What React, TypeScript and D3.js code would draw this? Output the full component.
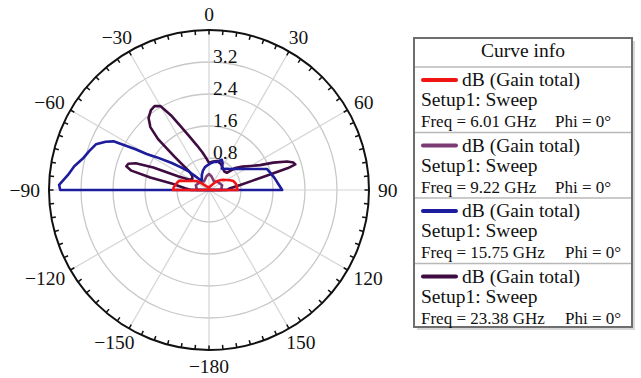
import React, { useEffect, useRef } from "react";
import * as d3 from "d3";

// polar layout
const W = 641;
const H = 378;
const cx = 209;
const cy = 190;
const R = 160;
const rMax = 4.0;

const radialTicks = [0.8, 1.6, 2.4, 3.2];
const angleTicks = [0, 30, 60, 90, 120, 150, 180, -150, -120, -90, -60, -30];
const angleText = ["0", "30", "60", "90", "120", "150", "\u2212180", "\u2212150", "\u2212120", "\u221290", "\u221260", "\u221230"];

// [theta (deg), gain], upper half only (lower half sits at the centre)
const gain601 = [
  [-90, 0.9], [-85, 0.88], [-80, 0.84], [-75, 0.8], [-72, 0.76], [-68, 0.6], [-64, 0.52],
  [-60, 0.45], [-55, 0.39], [-50, 0.3], [-45, 0.2], [-40, 0.14], [-30, 0.1], [-20, 0.08],
  [-10, 0.06], [0, 0.06], [10, 0.08], [20, 0.1], [30, 0.15], [40, 0.26], [45, 0.33],
  [50, 0.39], [55, 0.44], [60, 0.5], [65, 0.58], [70, 0.65], [75, 0.68], [80, 0.7],
  [85, 0.7], [90, 0.72],
];
const gain922 = [
  [-90, 0.3], [-70, 0.35], [-50, 0.3], [-30, 0.25], [-10, 0.35], [0, 0.4], [10, 0.35],
  [30, 0.25], [50, 0.3], [70, 0.35], [90, 0.3],
];
const gain1575 = [
  [-90, 3.72], [-88, 3.75], [-84, 3.55], [-80, 3.42], [-76, 3.25], [-72, 3.15], [-68, 3.05],
  [-65, 2.85], [-63, 2.68], [-61, 2.1], [-60, 1.8], [-58, 1.55], [-54, 1.15], [-51, 0.9],
  [-48, 0.72], [-45, 0.5], [-42, 0.36], [-38, 0.3], [-32, 0.34], [-25, 0.42], [-18, 0.5],
  [-10, 0.58], [-2, 0.63], [5, 0.68], [10, 0.71], [16, 0.73], [20, 0.78], [23, 0.82],
  [27, 0.75], [31, 0.62], [35, 0.64], [40, 0.69], [45, 0.74], [50, 0.82], [55, 0.92],
  [60, 1.05], [65, 1.24], [70, 1.54], [75, 1.6], [80, 1.67], [85, 1.74], [90, 1.83],
];
const gain2338 = [
  [-90, 0.45], [-86, 0.6], [-82, 0.8], [-80, 0.95], [-78, 1.5], [-76, 2.0], [-74, 2.15],
  [-72, 2.12], [-70, 1.95], [-68, 1.5], [-66, 0.85], [-62, 0.55], [-56, 0.5], [-50, 0.55],
  [-47, 0.65], [-46, 1.2], [-45, 1.8], [-43, 2.15], [-40, 2.35], [-36, 2.47], [-33, 2.5],
  [-30, 2.42], [-27, 2.1], [-24, 1.75], [-20, 1.42], [-15, 1.15], [-10, 0.96], [-5, 0.8],
  [0, 0.68], [8, 0.72], [16, 0.75], [24, 0.72], [32, 0.65], [40, 0.6], [46, 0.62],
  [50, 0.85], [55, 1.02], [60, 1.2], [64, 1.42], [67, 1.75], [70, 2.08], [72, 2.22],
  [73.5, 2.25], [74.5, 2.05], [76, 1.5], [78, 1.1], [81, 0.79], [85, 0.53], [90, 0.45],
];

const freqs = ["6.01", "9.22", "15.75", "23.38"];
const colors = ["#f01414", "#7a3a72", "#1c1c9c", "#3e0c40"];
const seriesData = [gain601, gain922, gain1575, gain2338];
const drawOrder = [3, 1, 2, 0];

const serif = "'Liberation Serif', 'Times New Roman', serif";

export default function App() {
  const svgRef = useRef<SVGSVGElement>(null);

  useEffect(() => {
    const svg = d3.select(svgRef.current);
    svg.selectAll("*").remove();

    const r = d3.scaleLinear().domain([0, rMax]).range([0, R]);
    const rad = (deg: number) => (deg * Math.PI) / 180;

    const g = svg.append("g").attr("transform", `translate(${cx}, ${cy})`);

    // grid rings
    g.selectAll(".ring")
      .data(radialTicks)
      .enter()
      .append("circle")
      .attr("r", (d) => r(d))
      .attr("fill", "none")
      .attr("stroke", "#c8c8c8")
      .attr("stroke-width", 1.3);

    // spokes
    g.selectAll(".spoke")
      .data(d3.range(0, 360, 30))
      .enter()
      .append("line")
      .attr("x2", (d) => R * Math.sin(rad(d)))
      .attr("y2", (d) => -R * Math.cos(rad(d)))
      .attr("stroke", "#d4d4d4")
      .attr("stroke-width", 1.2);

    // outer circle + ticks
    g.append("circle")
      .attr("r", R)
      .attr("fill", "none")
      .attr("stroke", "#111")
      .attr("stroke-width", 2);

    g.selectAll(".tick")
      .data(d3.range(0, 360, 5))
      .enter()
      .append("line")
      .attr("x1", (d) => R * Math.sin(rad(d)))
      .attr("y1", (d) => -R * Math.cos(rad(d)))
      .attr("x2", (d) => (R - 4.5) * Math.sin(rad(d)))
      .attr("y2", (d) => -(R - 4.5) * Math.cos(rad(d)))
      .attr("stroke", "#111")
      .attr("stroke-width", 1.5);

    // radial labels
    g.selectAll(".rlabel")
      .data(radialTicks)
      .enter()
      .append("text")
      .attr("x", 4)
      .attr("y", (d) => -r(d) + 1)
      .attr("font-family", serif)
      .attr("font-size", 19.5)
      .attr("fill", "#111")
      .text((d) => d.toFixed(1));

    // angle labels, pushed out so the nearest edge sits at a fixed radius
    const Ra = 169;
    g.selectAll(".alabel")
      .data(angleTicks)
      .enter()
      .append("text")
      .attr("font-family", serif)
      .attr("font-size", 19.5)
      .attr("fill", "#111")
      .attr("text-anchor", "middle")
      .attr("dominant-baseline", "central")
      .text((d, i) => angleText[i])
      .each(function (d) {
        const el = this as SVGTextElement;
        const w = el.getComputedTextLength();
        const t = rad(d);
        const x = Ra * Math.sin(t) + Math.sin(t) * (w / 2);
        const y = -Ra * Math.cos(t) - Math.cos(t) * 7;
        d3.select(el).attr("x", x).attr("y", y);
      });

    // curves
    const line = d3
      .lineRadial<number[]>()
      .angle((d) => rad(d[0]))
      .radius((d) => r(d[1]))
      .curve(d3.curveLinearClosed);

    drawOrder.forEach((i) => {
      const pts = [[-90, 0], ...seriesData[i], [90, 0]];
      g.append("path")
        .attr("d", line(pts))
        .attr("fill", "none")
        .attr("stroke", colors[i])
        .attr("stroke-width", 2.6)
        .attr("stroke-linejoin", "round");
    });

    // legend box
    const lx = 414;
    const ly = 38;
    const lw = 218;
    const lh = 289;
    const leg = svg.append("g");
    leg.append("rect")
      .attr("x", lx + 3)
      .attr("y", ly + 3)
      .attr("width", lw)
      .attr("height", lh)
      .attr("fill", "#d8d8d8");
    leg.append("rect")
      .attr("x", lx)
      .attr("y", ly)
      .attr("width", lw)
      .attr("height", lh)
      .attr("fill", "#fff")
      .attr("stroke", "#6e6e6e")
      .attr("stroke-width", 2);
    leg.append("text")
      .attr("x", lx + lw / 2)
      .attr("y", 57)
      .attr("text-anchor", "middle")
      .attr("font-family", serif)
      .attr("font-size", 19.5)
      .attr("fill", "#111")
      .text("Curve info");

    const rowH = 65.5;
    freqs.forEach((f, i) => {
      const y0 = 67 + i * rowH;
      leg.append("line")
        .attr("x1", lx + 1)
        .attr("x2", lx + lw - 1)
        .attr("y1", y0)
        .attr("y2", y0)
        .attr("stroke", "#b8b8b8")
        .attr("stroke-width", 1.5);
      leg.append("line")
        .attr("x1", 423)
        .attr("x2", 456)
        .attr("y1", y0 + 13)
        .attr("y2", y0 + 13)
        .attr("stroke", colors[i])
        .attr("stroke-width", 4)
        .attr("stroke-linecap", "round");
      const tx = leg.append("text").attr("font-family", serif).attr("fill", "#111");
      tx.append("tspan").attr("x", 462).attr("y", y0 + 19).attr("font-size", 19.5).text("dB (Gain total)");
      tx.append("tspan").attr("x", 421).attr("y", y0 + 39).attr("font-size", 19.5).text("Setup1: Sweep");
      tx.append("tspan").attr("x", 421).attr("y", y0 + 60).attr("font-size", 17).text(`Freq = ${f} GHz`);
      tx.append("tspan").attr("x", f.length > 4 ? 565 : 555).attr("y", y0 + 60).attr("font-size", 17).text("Phi = 0\u00b0");
    });
  }, []);

  return (
    <svg
      ref={svgRef}
      width={W}
      height={H}
      style={{ position: "absolute", left: 0, top: 0, background: "#fff" }}
    />
  );
}
